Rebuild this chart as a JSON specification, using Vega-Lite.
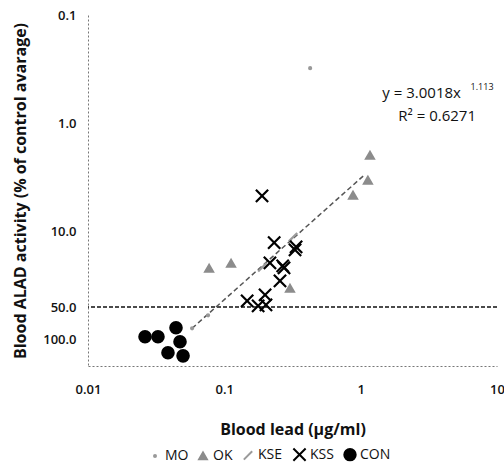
{
  "$schema": "https://vega.github.io/schema/vega-lite/v6.json",
  "autosize": {"type": "none"},
  "padding": {"left": 88, "top": 15, "right": 7, "bottom": 102},
  "width": 409,
  "height": 351,
  "background": "white",
  "config": {
    "view": {"stroke": null},
    "font": "Open Sans",
    "axis": {"grid": false, "ticks": false, "domainDash": [2, 2], "domainColor": "#777", "labelFont": "Open Sans", "labelFontSize": 13, "labelFontWeight": 600, "labelColor": "#111", "titleFont": "Open Sans", "titleFontSize": 16, "titleFontWeight": "bold", "titleColor": "#111"},
    "legend": {"labelFont": "Open Sans", "labelFontSize": 14, "labelColor": "#111", "columnPadding": 6, "labelOffset": 3, "symbolStrokeWidth": 2}
  },
  "layer": [
    {
      "data": {"values": [{"level": 50}]},
      "mark": {"type": "rule", "stroke": "#111", "strokeWidth": 1.5, "strokeDash": [4, 2]},
      "encoding": {"y": {"field": "level", "type": "quantitative", "scale": {"type": "log", "domain": [0.1, 175], "reverse": true, "nice": false}}}
    },
    {
      "data": {"values": [{"lead": 0.058, "alad": 78.5}, {"lead": 1.08, "alad": 2.96}]},
      "mark": {"type": "line", "stroke": "#555", "strokeWidth": 1.5, "strokeDash": [5, 3]},
      "encoding": {
        "x": {"field": "lead", "type": "quantitative", "scale": {"type": "log", "domain": [0.01, 10], "nice": false}},
        "y": {"field": "alad", "type": "quantitative", "scale": {"type": "log", "domain": [0.1, 175], "reverse": true, "nice": false}}
      }
    },
    {
      "data": {"values": [
        {"series": "MO", "lead": 0.426, "alad": 0.31},
        {"series": "MO", "lead": 0.058, "alad": 78.5},
        {"series": "MO", "lead": 0.076, "alad": 59.5},
        {"series": "OK", "lead": 0.0773, "alad": 21.9},
        {"series": "OK", "lead": 0.112, "alad": 19.7},
        {"series": "OK", "lead": 0.303, "alad": 33.5},
        {"series": "OK", "lead": 0.879, "alad": 4.63},
        {"series": "OK", "lead": 1.13, "alad": 3.36},
        {"series": "OK", "lead": 1.17, "alad": 1.98},
        {"series": "KSE", "lead": 0.319, "alad": 11.3},
        {"series": "KSE", "lead": 0.19, "alad": 21.4},
        {"series": "KSS", "lead": 0.189, "alad": 4.69},
        {"series": "KSS", "lead": 0.232, "alad": 12.7},
        {"series": "KSS", "lead": 0.33, "alad": 14.8},
        {"series": "KSS", "lead": 0.336, "alad": 13.9},
        {"series": "KSS", "lead": 0.216, "alad": 19.5},
        {"series": "KSS", "lead": 0.274, "alad": 21.7},
        {"series": "KSS", "lead": 0.268, "alad": 20.8},
        {"series": "KSS", "lead": 0.256, "alad": 28.6},
        {"series": "KSS", "lead": 0.199, "alad": 38.5},
        {"series": "KSS", "lead": 0.147, "alad": 43.7},
        {"series": "KSS", "lead": 0.177, "alad": 48.6},
        {"series": "KSS", "lead": 0.202, "alad": 47.6},
        {"series": "CON", "lead": 0.0262, "alad": 94},
        {"series": "CON", "lead": 0.0326, "alad": 94},
        {"series": "CON", "lead": 0.0442, "alad": 77.6},
        {"series": "CON", "lead": 0.0473, "alad": 104.5},
        {"series": "CON", "lead": 0.0386, "alad": 132},
        {"series": "CON", "lead": 0.0498, "alad": 141}
      ]},
      "mark": {"type": "point", "filled": true, "opacity": 1, "strokeWidth": 2.2},
      "encoding": {
        "x": {"field": "lead", "type": "quantitative", "title": "Blood lead (μg/ml)", "scale": {"type": "log", "domain": [0.01, 10], "nice": false}, "axis": {"values": [0.01, 0.1, 1, 10], "format": "~g", "labelPadding": 17, "titlePadding": 25, "labelFlush": false}},
        "y": {"field": "alad", "type": "quantitative", "title": "Blood ALAD activity (% of control avarage)", "scale": {"type": "log", "domain": [0.1, 175], "reverse": true, "nice": false}, "axis": {"values": [0.1, 1, 10, 50, 100], "format": ".1f", "labelPadding": 12, "titlePadding": 14, "labelFlush": false}},
        "shape": {"field": "series", "type": "nominal", "title": null, "scale": {"domain": ["MO", "OK", "KSE", "KSS", "CON"], "range": ["circle", "triangle-up", "M-1,1L1,-1", "M-1,-1L1,1M-1,1L1,-1", "circle"]}, "legend": {"orient": "none", "legendX": 60, "legendY": 432, "direction": "horizontal"}},
        "fill": {"field": "series", "type": "nominal", "title": null, "scale": {"domain": ["MO", "OK", "KSE", "KSS", "CON"], "range": ["#999999", "#8c8c8c", "rgba(0,0,0,0)", "rgba(0,0,0,0)", "#000000"]}, "legend": {"orient": "none", "legendX": 60, "legendY": 432, "direction": "horizontal"}},
        "stroke": {"field": "series", "type": "nominal", "title": null, "scale": {"domain": ["MO", "OK", "KSE", "KSS", "CON"], "range": ["#999999", "#8c8c8c", "#9a9a9a", "#000000", "#000000"]}, "legend": {"orient": "none", "legendX": 60, "legendY": 432, "direction": "horizontal"}},
        "size": {"field": "series", "type": "nominal", "title": null, "scale": {"type": "ordinal", "domain": ["MO", "OK", "KSE", "KSS", "CON"], "range": [4, 60, 70, 150, 130]}, "legend": {"orient": "none", "legendX": 60, "legendY": 432, "direction": "horizontal"}}
      }
    },
    {
      "data": {"values": [
        {"label": "y = 3.0018x", "lead": 2.8, "alad": 0.53},
        {"label": "R² = 0.6271", "lead": 3.64, "alad": 0.86}
      ]},
      "mark": {"type": "text", "font": "Open Sans", "fontSize": 15, "color": "#111", "align": "center", "baseline": "middle"},
      "encoding": {
        "x": {"field": "lead", "type": "quantitative", "scale": {"type": "log", "domain": [0.01, 10], "nice": false}},
        "y": {"field": "alad", "type": "quantitative", "scale": {"type": "log", "domain": [0.1, 175], "reverse": true, "nice": false}},
        "text": {"field": "label"}
      }
    },
    {
      "data": {"values": [{"label": "1.113", "lead": 6.4, "alad": 0.46}]},
      "mark": {"type": "text", "font": "Open Sans", "fontSize": 9, "color": "#111", "align": "left", "baseline": "middle"},
      "encoding": {
        "x": {"field": "lead", "type": "quantitative", "scale": {"type": "log", "domain": [0.01, 10], "nice": false}},
        "y": {"field": "alad", "type": "quantitative", "scale": {"type": "log", "domain": [0.1, 175], "reverse": true, "nice": false}},
        "text": {"field": "label"}
      }
    }
  ]
}
